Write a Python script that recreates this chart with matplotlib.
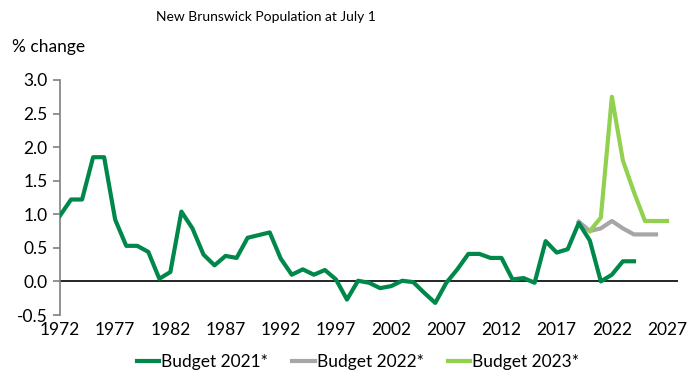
import numpy as np
import matplotlib.pyplot as plt

plt.rcParams['font.family'] = ['Lato', 'DejaVu Sans']

# annual % change in population, by budget vintage
years_2021 = list(range(1972, 2025))
budget_2021 = [0.98, 1.22, 1.22, 1.85, 1.85, 0.92, 0.53, 0.53, 0.44, 0.04,
               0.14, 1.04, 0.79, 0.40, 0.24, 0.38, 0.35, 0.65, 0.69, 0.73,
               0.34, 0.10, 0.18, 0.10, 0.17, 0.03, -0.27, 0.01, -0.02, -0.10,
               -0.07, 0.01, -0.01, -0.17, -0.32, -0.02, 0.18, 0.41, 0.41, 0.35,
               0.35, 0.03, 0.05, -0.02, 0.60, 0.43, 0.48, 0.87, 0.61, 0.00,
               0.10, 0.30, 0.30]

years_2022 = list(range(2019, 2027))
budget_2022 = [0.89, 0.75, 0.79, 0.90, 0.79, 0.70, 0.70, 0.70]

years_2023 = list(range(2020, 2028))
budget_2023 = [0.75, 0.95, 2.75, 1.80, 1.33, 0.90, 0.90, 0.90]

fig = plt.figure(figsize=(7, 3.75), dpi=100)
ax = fig.add_axes([0.0857, 0.16, 0.883, 0.6267])

ax.axhline(0, color='black', lw=1.2, zorder=1)
ax.plot(years_2021, budget_2021, color='#00884A', lw=3, label='Budget 2021*', zorder=3)
ax.plot(years_2022, budget_2022, color='#A6A6A6', lw=3, label='Budget 2022*', zorder=2)
ax.plot(years_2023, budget_2023, color='#92D050', lw=3, label='Budget 2023*', zorder=2)

ax.set_xlim(1972, 2028)
ax.set_ylim(-0.5, 3.0)
ax.set_yticks(np.arange(-0.5, 3.01, 0.5))
ax.set_yticklabels([f'{v:.1f}' for v in np.arange(-0.5, 3.01, 0.5)])
ax.set_xticks(range(1972, 2028, 5))

for s in ['top', 'right', 'bottom']:
    ax.spines[s].set_visible(False)
ax.spines['left'].set_color('#7F7F7F')
ax.spines['left'].set_linewidth(1.2)
ax.tick_params(axis='y', direction='out', length=5, color='#7F7F7F', width=1.2,
               labelsize=12.5, pad=4)
ax.tick_params(axis='x', length=0, labelsize=12.5, pad=5)

fig.text(266 / 700, 1 - 17 / 375, 'New Brunswick Population at July 1',
         ha='center', va='center', fontsize=10)
fig.text(12 / 700, 1 - 47 / 375, '% change', ha='left', va='center', fontsize=12.5)

fig.legend(loc='center', bbox_to_anchor=(358 / 700, 1 - 362 / 375), ncol=3,
           frameon=False, fontsize=12.5, handlelength=1.3, handletextpad=0.1,
           columnspacing=1.4)

fig.savefig('out.png', dpi=100)
